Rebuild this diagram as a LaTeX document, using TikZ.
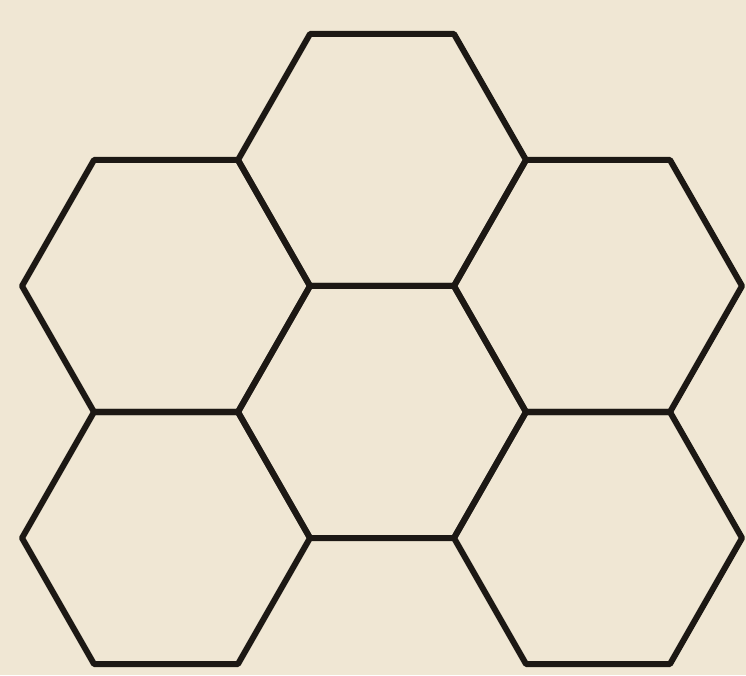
\documentclass[tikz,border=0pt]{standalone}
\definecolor{paper}{RGB}{240,231,212}
\definecolor{ink}{RGB}{28,24,20}
\tikzset{hexline/.style={draw=ink,line width=6pt,line join=round,line cap=round}}
\begin{document}
\begin{tikzpicture}[x=1pt,y=1pt]
\fill[paper] (0,0) rectangle (746,675);
\useasboundingbox (0,0) rectangle (746,675);
\def\s{144}
\def\h{126}
\foreach \cx/\cy in {382/160, 166/286, 598/286, 382/412, 166/538, 598/538}{
  \draw[hexline] (\cx-\s/2,675-\cy+\h) -- (\cx+\s/2,675-\cy+\h) -- (\cx+\s,675-\cy)
    -- (\cx+\s/2,675-\cy-\h) -- (\cx-\s/2,675-\cy-\h) -- (\cx-\s,675-\cy) -- cycle;
}
\end{tikzpicture}
\end{document}
